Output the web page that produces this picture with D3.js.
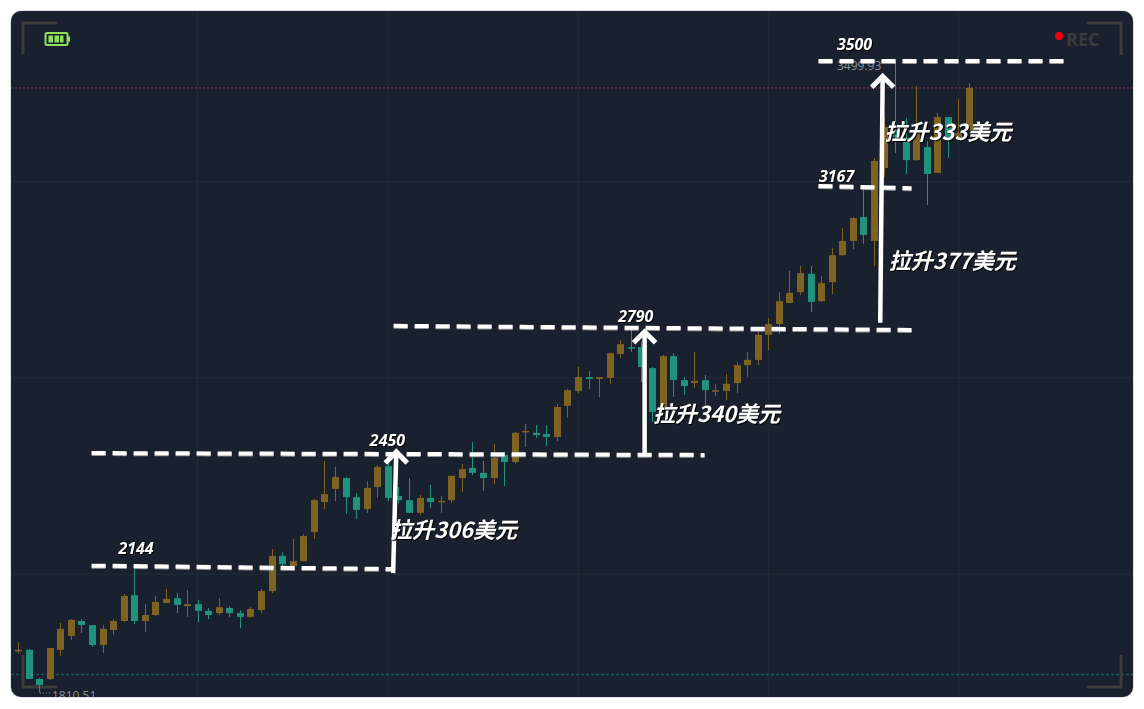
<!DOCTYPE html>
<html><head><meta charset="utf-8">
<script src="https://cdn.jsdelivr.net/npm/d3@7/dist/d3.min.js"></script>
<style>html,body{margin:0;padding:0;background:#fff}svg{display:block}</style>
</head><body><svg id="c" width="1144" height="709"></svg>
<script>
const highs=[1947,1928,1851,1931,1998,2008,2008,1992,1992,2008,2075,2145,2048,2070,2089,2078,2086,2059,2038,2064,2043,2032,2040,2089,2195,2187,2222,2236,2329,2431,2415,2388,2345,2377,2420,2452,2361,2385,2340,2367,2337,2391,2423,2481,2431,2476,2455,2508,2530,2527,2527,2583,2623,2682,2671,2655,2719,2754,2781,2749,2682,2714,2719,2655,2722,2661,2637,2663,2695,2722,2776,2813,2882,2939,2952,2952,2925,3000,3053,3083,3160,3241,3350,3499.93,3348,3433,3286,3361,3350,3398,3441];
const bodyTops=[1926,1926,1848,1931,1982,2006,2003,1992,1982,2003,2070,2072,2019,2054,2062,2064,2048,2048,2030,2040,2038,2024,2035,2083,2177,2177,2163,2230,2326,2342,2388,2385,2334,2359,2415,2417,2337,2326,2332,2332,2324,2391,2409,2412,2399,2439,2447,2506,2511,2506,2503,2575,2620,2655,2655,2655,2719,2743,2735,2735,2679,2711,2711,2647,2645,2647,2620,2637,2687,2701,2768,2797,2858,2880,2933,2931,2906,2981,3019,3080,3083,3233,3324,3315,3294,3307,3270,3350,3350,3307,3428];
const bodyBottoms=[1923,1848,1832,1848,1926,1963,1992,1939,1939,1979,2003,2003,2003,2019,2051,2046,2043,2030,2019,2024,2024,2014,2014,2032,2083,2155,2150,2163,2241,2321,2356,2334,2300,2302,2361,2332,2326,2292,2292,2321,2321,2326,2385,2399,2385,2385,2428,2428,2508,2500,2495,2495,2578,2618,2650,2650,2653,2717,2733,2682,2562,2575,2647,2631,2639,2620,2618,2618,2639,2687,2701,2768,2797,2853,2882,2856,2858,2909,2981,3019,3035,3019,3214,3297,3235,3235,3198,3201,3289,3297,3315];
const lows=[1915,1848,1811,1845,1910,1952,1971,1934,1918,1966,2000,1995,1974,2016,2051,2024,2014,2000,2008,2019,2014,1984,2011,2024,2078,2150,2150,2163,2222,2302,2324,2289,2276,2292,2332,2324,2318,2292,2286,2305,2292,2318,2348,2393,2351,2369,2364,2423,2468,2492,2471,2484,2546,2612,2623,2602,2637,2706,2722,2642,2535,2567,2602,2607,2626,2580,2604,2594,2612,2655,2687,2727,2770,2853,2874,2829,2856,2877,2979,2997,3011,2952,3190,3254,3198,3233,3115,3201,3241,3297,3315];
const isFalling=[0,1,1,0,0,0,1,1,0,0,0,1,0,0,0,1,0,1,1,0,1,1,0,0,0,1,0,0,0,0,0,1,1,0,0,1,1,1,0,1,0,0,0,1,1,0,1,0,0,1,1,0,0,0,1,0,0,0,1,1,1,0,1,1,0,1,0,0,0,0,0,0,0,0,0,1,0,0,0,0,1,0,0,1,1,0,1,0,1,0,0];
const gridIdx=[17,35,53,71,89];
const gridPrices=[2128,2653,3177];
const maxPrice=3499.93, minPrice=1810.51, refHigh=3428, refLow=1860;
const dashLines=[[6.97,2151,35.64,2142],[6.97,2452,64.97,2447],[35.55,2792,84.56,2781],[75.76,3166,84.56,3160],[75.76,3500,98.94,3500]];
const arrows=[[35.5,2131,35.8,2455],[59.3,2450,59.3,2776],[81.6,2800,81.83,3459]];
const priceLabels=[["2144",9.5,2181],["2450",33.3,2470],["2790",56.8,2802],["3167",75.8,3176],["3500",77.5,3529]];
const riseLabels=[["拉升306美元",35.2,2225],["拉升340美元",60.1,2535],["拉升377美元",82.4,2943],["拉升333美元",82.0,3288]];

const svg=d3.select("#c");
const x=d3.scaleLinear().domain([0,90]).range([18,969]);
const y=d3.scaleLinear().domain([minPrice,maxPrice]).range([693,61]);
const defs=svg.append("defs");
defs.append("clipPath").attr("id","card").append("rect").attr("x",11).attr("y",11).attr("width",1122).attr("height",686).attr("rx",10);

svg.append("rect").attr("x",10.5).attr("y",10.5).attr("width",1123).attr("height",687).attr("rx",10.5).attr("fill","#c4c7cd");
const g=svg.append("g").attr("clip-path","url(#card)");
g.append("rect").attr("x",11).attr("y",11).attr("width",1122).attr("height",686).attr("fill","#19212e");

const grid="#212d38";
g.selectAll("line.v").data(gridIdx).join("line").attr("x1",d=>x(d)).attr("x2",d=>x(d)).attr("y1",11).attr("y2",697).attr("stroke",grid).attr("stroke-width",1);
g.selectAll("line.h").data(gridPrices).join("line").attr("y1",d=>y(d)).attr("y2",d=>y(d)).attr("x1",11).attr("x2",1133).attr("stroke",grid).attr("stroke-width",1);

g.append("line").attr("x1",11).attr("x2",1133).attr("y1",y(refHigh)).attr("y2",y(refHigh)).attr("stroke","#8f3442").attr("stroke-width",1).attr("stroke-dasharray","2 2");
g.append("line").attr("x1",11).attr("x2",1133).attr("y1",y(refLow)).attr("y2",y(refLow)).attr("stroke","#1c5a55").attr("stroke-width",1.5).attr("stroke-dasharray","3 2");

// brackets
const bc="#3b3c3c";
[[23,54,23,23,57,23],[23,655,23,687,57,687],[1087,23,1121,23,1121,55],[1087,687,1121,687,1121,655]].forEach(p=>{
  g.append("polyline").attr("points",`${p[0]},${p[1]} ${p[2]},${p[3]} ${p[4]},${p[5]}`).attr("fill","none").attr("stroke",bc).attr("stroke-width",3);
});

const col=i=>isFalling[i]?"#21937c":"#7f6322";
const idx=d3.range(highs.length);
g.selectAll("line.w").data(idx).join("line").attr("x1",i=>Math.round(x(i))+.5).attr("x2",i=>Math.round(x(i))+.5)
  .attr("y1",i=>y(highs[i])).attr("y2",i=>y(lows[i])).attr("stroke",col).attr("stroke-width",1);
g.selectAll("rect.b").data(idx).join("rect").attr("x",i=>Math.round(x(i))-3).attr("width",7)
  .attr("y",i=>y(bodyTops[i])).attr("height",i=>Math.max(1.5,y(bodyBottoms[i])-y(bodyTops[i]))).attr("fill",col);

// battery
const bat=g.append("g").attr("transform","translate(45,32.5)");
bat.append("rect").attr("x",.5).attr("y",.5).attr("width",22).attr("height",12).attr("rx",1.5).attr("fill","none").attr("stroke","#8fe05f").attr("stroke-width",2);
bat.append("rect").attr("x",23).attr("y",4).attr("width",2).attr("height",5).attr("fill","#8fe05f");
[3.5,9.5,15].forEach((d,i)=>bat.append("rect").attr("x",d).attr("y",3).attr("width",i==2?3.5:4.5).attr("height",7).attr("fill","#8fe05f"));

// REC
g.append("circle").attr("cx",1059).attr("cy",36).attr("r",4).attr("fill","#f0000f");
g.append("text").attr("x",1066).attr("y",46).attr("font-family","'Open Sans'").attr("font-weight",700).attr("font-size",18).attr("fill","#3b3c3c").text("REC");

// extreme labels
const lab="#8b909b";
g.append("text").attr("x",52).attr("y",700).attr("font-family","'Open Sans'").attr("font-size",12).attr("fill",lab).text("1810.51");
g.append("line").attr("x1",40).attr("x2",50).attr("y1",693).attr("y2",693).attr("stroke",lab).attr("stroke-dasharray","1 2");
g.append("text").attr("x",837).attr("y",70).attr("font-family","'Open Sans'").attr("font-size",12).attr("fill",lab).text("3499.93");
g.append("line").attr("x1",884).attr("x2",895).attr("y1",62).attr("y2",62).attr("stroke",lab).attr("stroke-dasharray","1 2");

// annotations
const ann=g.append("g");
ann.selectAll("line.d").data(dashLines).join("line")
  .attr("x1",d=>x(d[0])).attr("y1",d=>y(d[1])).attr("x2",d=>x(d[2])).attr("y2",d=>y(d[3]))
  .attr("stroke","#fff").attr("stroke-width",4).attr("stroke-dasharray","14 7")
  .style("filter","drop-shadow(0 1px 0 rgba(190,190,190,.75))");
ann.selectAll("path.a").data(arrows).join("path")
  .attr("d",d=>{const x2=x(d[2]),y2=y(d[3]);return `M${x(d[0])},${y(d[1])}L${x2},${y2}`;})
  .attr("stroke","#fff").attr("stroke-width",4.5).attr("fill","none");
ann.selectAll("path.h").data(arrows).join("path")
  .attr("d",d=>{const x2=x(d[2]),y2=y(d[3]);return `M${x2-11},${y2+11}L${x2},${y2}L${x2+11},${y2+11}`;})
  .attr("stroke","#fff").attr("stroke-width",5).attr("fill","none");
ann.selectAll("text.p").data(priceLabels).join("text")
  .attr("x",d=>x(d[1])).attr("y",d=>y(d[2])).text(d=>d[0])
  .attr("font-family","'Open Sans'").attr("font-weight",700).attr("font-style","italic").attr("font-size",16).attr("fill","#fff")
  .style("filter","drop-shadow(1px 1px 0.5px #000)");
ann.selectAll("text.r").data(riseLabels).join("text")
  .attr("x",d=>x(d[1])).attr("y",d=>y(d[2])).text(d=>d[0])
  .attr("font-family","'Noto Sans CJK SC','Open Sans'").attr("font-weight",700).attr("font-style","italic").attr("font-size",22).attr("fill","#fff")
  .style("filter","drop-shadow(1.5px 1.5px 0.5px #000)");
</script></body></html>
